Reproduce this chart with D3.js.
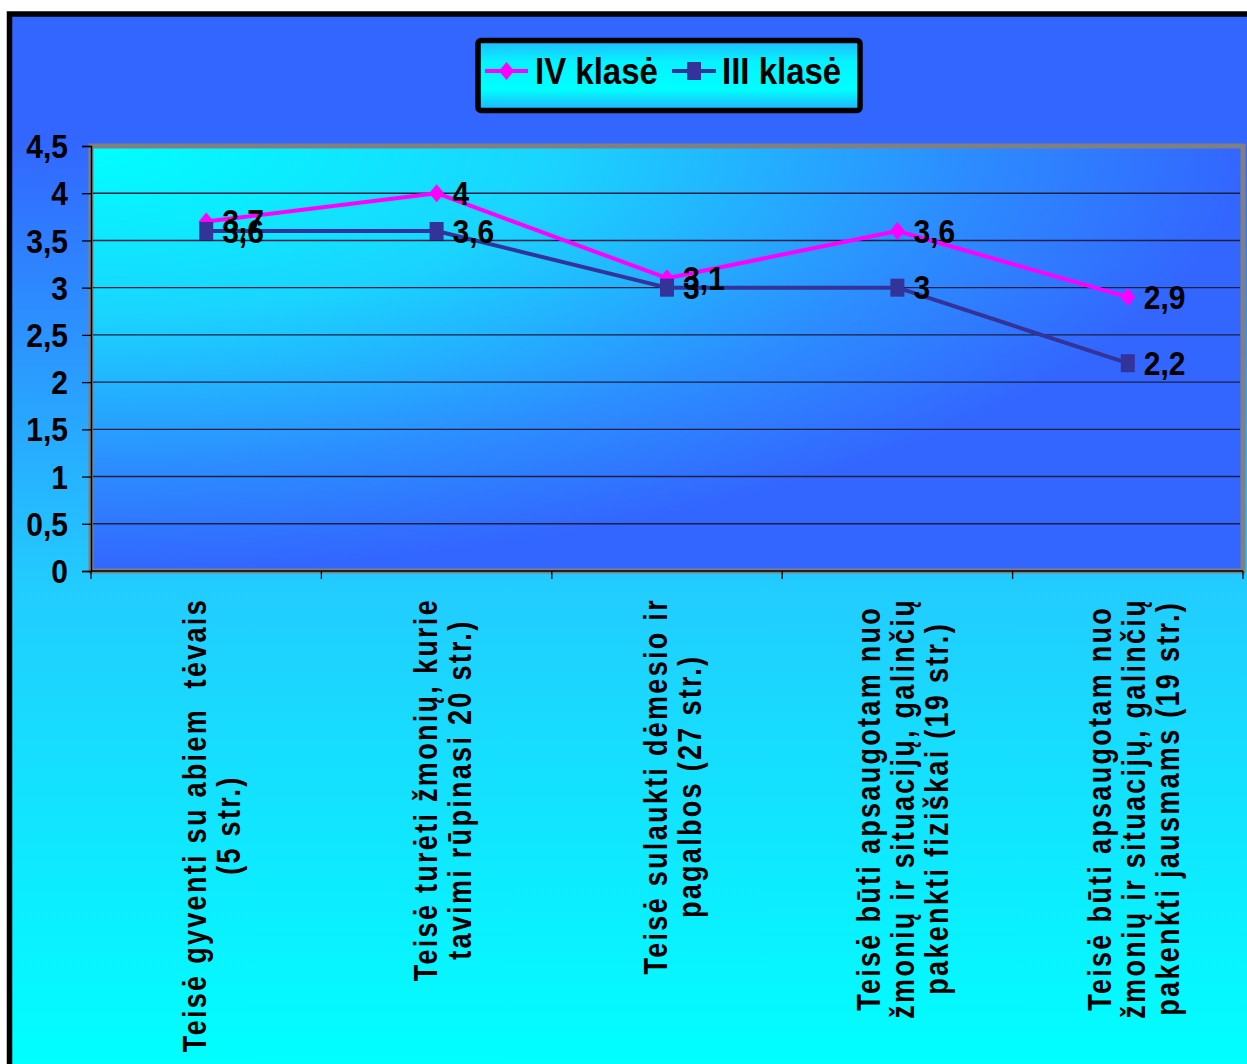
<!DOCTYPE html>
<html><head><meta charset="utf-8">
<script src="https://cdn.jsdelivr.net/npm/d3@7"></script>
<style>html,body{margin:0;padding:0;background:#fff;overflow:hidden}</style>
</head><body><svg id="c" width="1247" height="1064"></svg>
<script>
const categories = [
  "Teisė gyventi su abiem  tėvais\n(5 str.)",
  "Teisė turėti žmonių, kurie\ntavimi rūpinasi 20 str.)",
  "Teisė sulaukti dėmesio ir\npagalbos (27 str.)",
  "Teisė būti apsaugotam nuo\nžmonių ir situacijų, galinčių\npakenkti fiziškai (19 str.)",
  "Teisė būti apsaugotam nuo\nžmonių ir situacijų, galinčių\npakenkti jausmams (19 str.)"
];
const seriesNames = ["IV klasė", "III klasė"];
const ivValues = [3.7, 4, 3.1, 3.6, 2.9];
const iiiValues = [3.6, 3.6, 3.0, 3.0, 2.2];
const yTicks = [0, 0.5, 1, 1.5, 2, 2.5, 3, 3.5, 4, 4.5];
const yTickLabels = ["0", "0,5", "1", "1,5", "2", "2,5", "3", "3,5", "4", "4,5"];

const FONT = "'Liberation Sans', Arial, sans-serif";
const svg = d3.select("#c");
const defs = svg.append("defs");

// gradients
const bg = defs.append("linearGradient").attr("id", "bgGrad")
  .attr("gradientUnits", "userSpaceOnUse").attr("x1", 0).attr("y1", 0).attr("x2", 0).attr("y2", 1064);
[[0, "#3366FF"], [0.13, "#3366FF"], [0.55, "#22CCFF"], [1, "#00FFFF"]]
  .forEach(([o, c]) => bg.append("stop").attr("offset", o).attr("stop-color", c));

const pg = defs.append("radialGradient").attr("id", "plotGrad")
  .attr("cx", 0).attr("cy", 0).attr("r", 1).attr("fx", 0).attr("fy", 0);
[[0, "#00FFFF"], [0.4, "#1AD4FF"], [0.75, "#2C8EFF"], [1, "#3366FF"]]
  .forEach(([o, c]) => pg.append("stop").attr("offset", o).attr("stop-color", c));

const lg = defs.append("linearGradient").attr("id", "legGrad")
  .attr("x1", 0).attr("y1", 0).attr("x2", 0).attr("y2", 1);
[[0, "#22B8FF"], [0.3, "#06F2FF"], [0.7, "#00FFFF"], [1, "#22B0FF"]]
  .forEach(([o, c]) => lg.append("stop").attr("offset", o).attr("stop-color", c));

// outer frame
svg.append("rect").attr("x", 9.5).attr("y", 14).attr("width", 1270).attr("height", 1080)
  .attr("fill", "url(#bgGrad)").attr("stroke", "#000").attr("stroke-width", 5.5);

// scales
const idx = d3.range(categories.length);
const x = d3.scaleBand().domain(idx).range([91, 1243]).padding(0);
const cx = i => x(i) + x.bandwidth() / 2;
const y = d3.scaleLinear().domain([0, 4.5]).range([571, 146]);

// plot area
svg.append("rect").attr("x", 91).attr("y", y(4.5)).attr("width", 1243 - 91).attr("height", y(0) - y(4.5))
  .attr("fill", "url(#plotGrad)").attr("stroke", "#808080").attr("stroke-width", 5);

// gridlines
svg.append("g").selectAll("line").data(yTicks.filter(v => v > 0 && v < 4.5)).join("line")
  .attr("x1", 93).attr("x2", 1240).attr("y1", d => y(d)).attr("y2", d => y(d))
  .attr("stroke", "#1c1f40").attr("stroke-width", 1.4);

// y axis
const yAxis = svg.append("g").attr("transform", "translate(91,0)")
  .call(d3.axisLeft(y).tickValues(yTicks).tickSize(9).tickPadding(14)
    .tickFormat((d, i) => yTickLabels[i]));
yAxis.select(".domain").attr("stroke", "#000").attr("stroke-width", 1.5);
yAxis.selectAll(".tick line").attr("stroke", "#000").attr("stroke-width", 1.3);
yAxis.selectAll(".tick text").attr("fill", "#000").attr("font-family", FONT)
  .attr("font-weight", "bold").attr("font-size", 30).attr("dy", "0.35em")
  .attr("transform", "scale(1,1.1)");

// x axis line + boundary ticks
svg.append("line").attr("x1", 91).attr("x2", 1243).attr("y1", y(0)).attr("y2", y(0))
  .attr("stroke", "#000").attr("stroke-width", 1.5);
svg.append("g").selectAll("line").data(idx.concat([categories.length])).join("line")
  .attr("x1", d => d < categories.length ? x(d) : x.range()[1])
  .attr("x2", d => d < categories.length ? x(d) : x.range()[1])
  .attr("y1", y(0)).attr("y2", y(0) + 8).attr("stroke", "#000").attr("stroke-width", 1.3);

// category labels (rotated)
const LINE = 34, GS = 1.22;
const catG = svg.append("g");
categories.forEach((cat, i) => {
  const lines = cat.split("\n");
  const n = lines.length;
  const g = catG.append("g");
  const texts = lines.map((ln, j) => {
    const bx = cx(i) - (n - 1) * LINE / 2 + j * LINE + 17;
    return g.append("text").attr("text-anchor", "middle")
      .attr("font-family", FONT).attr("font-weight", "bold").attr("font-size", 27)
      .attr("letter-spacing", 2.3).attr("fill", "#000")
      .style("white-space", "pre")
      .attr("data-bx", bx).text(ln);
  });
  const L = d3.max(texts, t => t.node().getComputedTextLength());
  texts.forEach(t => {
    const bx = +t.attr("data-bx");
    t.attr("transform", `translate(${bx},${598 + L / 2}) rotate(-90) scale(1,${GS})`);
  });
});

// series
const diamond = "M0,-9L7.5,0L0,9L-7.5,0Z";
const series = [
  {name: seriesNames[0], values: ivValues, color: "#FF00FF", marker: "diamond"},
  {name: seriesNames[1], values: iiiValues, color: "#333399", marker: "square"}
];
const line = d3.line().x((d, i) => cx(i)).y(d => y(d));
series.forEach(s => {
  const g = svg.append("g");
  g.append("path").attr("d", line(s.values)).attr("fill", "none")
    .attr("stroke", s.color).attr("stroke-width", 4).attr("stroke-linejoin", "round");
  s.values.forEach((v, i) => {
    if (s.marker === "diamond") {
      g.append("path").attr("d", diamond).attr("transform", `translate(${cx(i)},${y(v)})`).attr("fill", s.color);
    } else {
      g.append("rect").attr("x", cx(i) - 7).attr("y", y(v) - 9).attr("width", 14).attr("height", 18).attr("fill", s.color);
    }
  });
});
// data labels
series.forEach(s => {
  s.values.forEach((v, i) => {
    svg.append("text").attr("transform", `translate(${cx(i) + 16},${y(v)}) scale(1,1.1)`)
      .attr("y", 10.5).attr("font-family", FONT).attr("font-weight", "bold").attr("font-size", 30)
      .attr("fill", "#000").text(String(v).replace(".", ","));
  });
});

// legend
const leg = svg.append("g");
leg.append("rect").attr("x", 478).attr("y", 40.5).attr("width", 382).attr("height", 70).attr("rx", 3)
  .attr("fill", "url(#legGrad)").attr("stroke", "#000").attr("stroke-width", 5.5);
const legItems = [
  {s: series[0], x0: 485, x1: 528, tx: 535},
  {s: series[1], x0: 672, x1: 716, tx: 722}
];
legItems.forEach(it => {
  const ly = 71, mx = (it.x0 + it.x1) / 2;
  leg.append("line").attr("x1", it.x0).attr("x2", it.x1).attr("y1", ly).attr("y2", ly)
    .attr("stroke", it.s.color).attr("stroke-width", 4);
  if (it.s.marker === "diamond") {
    leg.append("path").attr("d", diamond).attr("transform", `translate(${mx},${ly})`).attr("fill", it.s.color);
  } else {
    leg.append("rect").attr("x", mx - 7).attr("y", ly - 9).attr("width", 14).attr("height", 18).attr("fill", it.s.color);
  }
  leg.append("text").attr("transform", `translate(${it.tx},${ly}) scale(1,1.1)`).attr("y", 11.5)
    .attr("font-family", FONT).attr("font-weight", "bold").attr("font-size", 33).attr("fill", "#000")
    .text(it.s.name);
});
</script></body></html>
